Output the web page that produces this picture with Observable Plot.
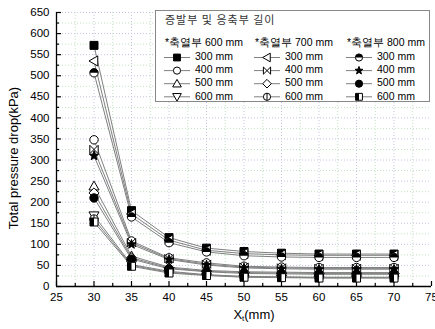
<!DOCTYPE html>
<html><head><meta charset="utf-8">
<script src="https://cdn.jsdelivr.net/npm/d3@7"></script>
<script src="https://cdn.jsdelivr.net/npm/@observablehq/plot@0.6"></script>
<style>
body{margin:0;background:#fff;}
#wrap{position:relative;width:435px;height:329px;overflow:hidden;font-family:"Liberation Sans",Arial,sans-serif;}
#wrap svg{position:absolute;left:0;top:0;}
</style></head><body><div id="wrap"></div>
<script>
// ---- data ----
const xValues = [30, 35, 40, 45, 50, 55, 60, 65, 70];
const storageLabels = ["*축열부 600 mm", "*축열부 700 mm", "*축열부 800 mm"];
const lengthLabels = ["300 mm", "400 mm", "500 mm", "600 mm"];
const legendTitle = "증발부 및 응축부 길이";
const xTicks = [25, 30, 35, 40, 45, 50, 55, 60, 65, 70, 75];
const xMinorTicks = [27.5, 32.5, 37.5, 42.5, 47.5, 52.5, 57.5, 62.5, 67.5, 72.5];
const yTicks = [0, 50, 100, 150, 200, 250, 300, 350, 400, 450, 500, 550, 600, 650];
const yMinorTicks = [25, 75, 125, 175, 225, 275, 325, 375, 425, 475, 525, 575, 625];

// storage 600 mm
const s600_300 = [572, 180, 116, 91, 83, 79, 77, 77, 77];
const s600_400 = [348, 108, 68, 56, 48, 46, 45, 45, 45];
const s600_500 = [238, 72, 46, 38, 35, 34, 33, 33, 33];
const s600_600 = [168, 52, 36, 28, 24, 23, 22, 22, 22];
// storage 700 mm
const s700_300 = [535, 172, 110, 86, 78, 75, 74, 74, 74];
const s700_400 = [325, 104, 66, 53, 46, 44, 43, 43, 43];
const s700_500 = [222, 68, 44, 36, 33, 32, 31, 31, 31];
const s700_600 = [160, 50, 34, 27, 23, 22, 21, 21, 21];
// storage 800 mm
const s800_300 = [507, 165, 104, 82, 73, 70, 69, 69, 69];
const s800_400 = [310, 100, 64, 51, 44, 42, 41, 41, 41];
const s800_500 = [210, 65, 42, 35, 31, 30, 29, 29, 29];
const s800_600 = [153, 48, 32, 26, 22, 21, 20, 20, 20];

const seriesValues = [
  [s600_300, s600_400, s600_500, s600_600],
  [s700_300, s700_400, s700_500, s700_600],
  [s800_300, s800_400, s800_500, s800_600]
];

// ---- marker shapes ----
const R = s => Math.sqrt(s / Math.PI);
const sym = {
  square: {draw(c, s) { const r = R(s) * 0.95; c.rect(-r, -r, 2 * r, 2 * r); }},
  circle: {draw(c, s) { const r = R(s); c.moveTo(r, 0); c.arc(0, 0, r, 0, 2 * Math.PI); }},
  triUp: {draw(c, s) { const r = R(s) * 1.2; c.moveTo(0, -r); c.lineTo(r, r * 0.75); c.lineTo(-r, r * 0.75); c.closePath(); }},
  triDown: {draw(c, s) { const r = R(s) * 1.2; c.moveTo(0, r); c.lineTo(r, -r * 0.75); c.lineTo(-r, -r * 0.75); c.closePath(); }},
  triLeft: {draw(c, s) { const r = R(s) * 1.2; c.moveTo(-r, 0); c.lineTo(r * 0.75, -r); c.lineTo(r * 0.75, r); c.closePath(); }},
  bowtie: {draw(c, s) { const r = R(s); c.moveTo(-r, -r); c.lineTo(r, r); c.lineTo(r, -r); c.lineTo(-r, r); c.closePath(); }},
  diamond: {draw(c, s) { const r = R(s) * 1.2; c.moveTo(0, -r); c.lineTo(r, 0); c.lineTo(0, r); c.lineTo(-r, 0); c.closePath(); }},
  circleBar: {draw(c, s) { const r = R(s); c.moveTo(r, 0); c.arc(0, 0, r, 0, 2 * Math.PI); c.moveTo(0, -r); c.lineTo(0, r); }},
  halfTop: {draw(c, s) { const r = R(s); c.moveTo(r, 0); c.arc(0, 0, r, 0, Math.PI, true); c.closePath(); }},
  star: {draw(c, s) {
    const r = R(s) * 1.15, ri = r * 0.42;
    for (let k = 0; k < 10; k++) {
      const a = -Math.PI / 2 + k * Math.PI / 5, rr = k % 2 ? ri : r;
      const px = rr * Math.cos(a), py = rr * Math.sin(a);
      k ? c.lineTo(px, py) : c.moveTo(px, py);
    }
    c.closePath();
  }},
  halfLeft: {draw(c, s) { const r = R(s) * 0.95; c.rect(-r, -r, r, 2 * r); }}
};
// style per [storage][length]: base shape, base fill, optional black overlay
const styles = [
  [{s: sym.square, f: "black"}, {s: sym.circle, f: "white"}, {s: sym.triUp, f: "white"}, {s: sym.triDown, f: "white"}],
  [{s: sym.triLeft, f: "white"}, {s: sym.bowtie, f: "white"}, {s: sym.diamond, f: "white"}, {s: sym.circleBar, f: "white"}],
  [{s: sym.circle, f: "white", o: sym.halfTop}, {s: sym.star, f: "black"}, {s: sym.circle, f: "black"}, {s: sym.square, f: "white", o: sym.halfLeft}]
];

const rows = [];
seriesValues.forEach((grp, i) => grp.forEach((vals, j) => vals.forEach((v, k) => rows.push({x: xValues[k], y: v, i, j}))));

const lineMarks = [];
const dotMarks = [];
for (let i = 0; i < 3; i++) for (let j = 0; j < 4; j++) {
  const d = rows.filter(r => r.i === i && r.j === j);
  lineMarks.push(Plot.line(d, {x: "x", y: "y", stroke: "#808080", strokeWidth: 1}));
  const st = styles[i][j];
  dotMarks.push(Plot.dot(d, {x: "x", y: "y", symbol: st.s, r: 4.2, fill: st.f, stroke: "black", strokeWidth: 1}));
  if (st.o) dotMarks.push(Plot.dot(d, {x: "x", y: "y", symbol: st.o, r: 4.2, fill: "black", stroke: "none"}));
}

const chart = Plot.plot({
  width: 435, height: 329,
  marginLeft: 56, marginRight: 4, marginTop: 12, marginBottom: 43,
  x: {domain: [25, 75]},
  y: {domain: [0, 650]},
  style: {fontFamily: "'Liberation Sans', Arial, sans-serif", fontSize: "11.5px", background: "white", color: "black", overflow: "visible"},
  marks: [
    Plot.ruleX(xMinorTicks, {stroke: "#c4e2c4", strokeDasharray: "1,2"}),
    Plot.ruleX(xTicks.slice(1, -1), {stroke: "#c4c4e2", strokeDasharray: "1,2"}),
    Plot.ruleY(yMinorTicks, {stroke: "#c4e2c4", strokeDasharray: "1,2"}),
    Plot.ruleY(yTicks.slice(1), {stroke: "#c4c4e2", strokeDasharray: "1,2"}),
    Plot.axisX({ticks: xTicks, tickSize: 0, tickPadding: 6, label: null}),
    Plot.axisX({ticks: xTicks, tickSize: 5, dy: -5, tickFormat: () => "", label: null, strokeWidth: 1.2}),
    Plot.axisX({ticks: xMinorTicks, tickSize: 3, dy: -3, tickFormat: () => "", label: null, strokeWidth: 1.2}),
    Plot.axisY({ticks: yTicks, tickSize: 0, tickPadding: 7, label: null}),
    Plot.axisY({ticks: yTicks, tickSize: 5, dx: 5, tickFormat: () => "", label: null, strokeWidth: 1.2}),
    Plot.axisY({ticks: yMinorTicks, tickSize: 3, dx: 3, tickFormat: () => "", label: null, strokeWidth: 1.2}),
    Plot.ruleX([25], {stroke: "black", strokeWidth: 1.3}),
    Plot.ruleY([0], {stroke: "black", strokeWidth: 1.3}),
    ...lineMarks,
    ...dotMarks
  ]
});
document.getElementById("wrap").appendChild(chart);

// ---- overlay: axis titles and legend ----
const ov = d3.select("#wrap").append("svg").attr("width", 435).attr("height", 329)
  .style("font-family", "'Liberation Sans', Arial, sans-serif");
const xl = ov.append("text").attr("x", 254).attr("y", 319).attr("text-anchor", "middle").attr("font-size", 13);
xl.append("tspan").text("X");
xl.append("tspan").attr("font-size", 8).attr("dy", 2).text("t");
xl.append("tspan").attr("dy", -2).text("(mm)");
ov.append("text").attr("transform", "translate(18,158) rotate(-90)").attr("text-anchor", "middle")
  .attr("font-size", 13).text("Total pressure drop(kPa)");

const lg = ov.append("g").attr("transform", "translate(155,10)");
lg.append("rect").attr("x", 0.5).attr("y", 0.5).attr("width", 274).attr("height", 91).attr("fill", "white").attr("stroke", "#888");
lg.append("text").attr("x", 10).attr("y", 11).attr("dominant-baseline", "middle").attr("font-size", 11)
  .attr("font-family", "'Noto Sans CJK KR', sans-serif").attr("letter-spacing", 1).attr("fill", "#333").text(legendTitle);
const colX = [10, 100, 192];
storageLabels.forEach((lab, i) => {
  lg.append("text").attr("x", colX[i]).attr("y", 33.5).attr("dominant-baseline", "middle").attr("font-size", 10.5).text(lab);
  lengthLabels.forEach((ll, j) => {
    const y = 47.5 + j * 13.1;
    const x0 = colX[i] - 1;
    lg.append("line").attr("x1", x0).attr("x2", x0 + 26).attr("y1", y).attr("y2", y).attr("stroke", "#808080");
    const st = styles[i][j];
    const size = Math.PI * 3.6 * 3.6;
    lg.append("path").attr("transform", `translate(${x0 + 13},${y})`).attr("d", d3.symbol(st.s, size)())
      .attr("fill", st.f).attr("stroke", "black");
    if (st.o) lg.append("path").attr("transform", `translate(${x0 + 13},${y})`).attr("d", d3.symbol(st.o, size)()).attr("fill", "black");
    lg.append("text").attr("x", x0 + 31).attr("y", y).attr("dominant-baseline", "middle").attr("font-size", 10.5).text(ll);
  });
});
</script></body></html>
